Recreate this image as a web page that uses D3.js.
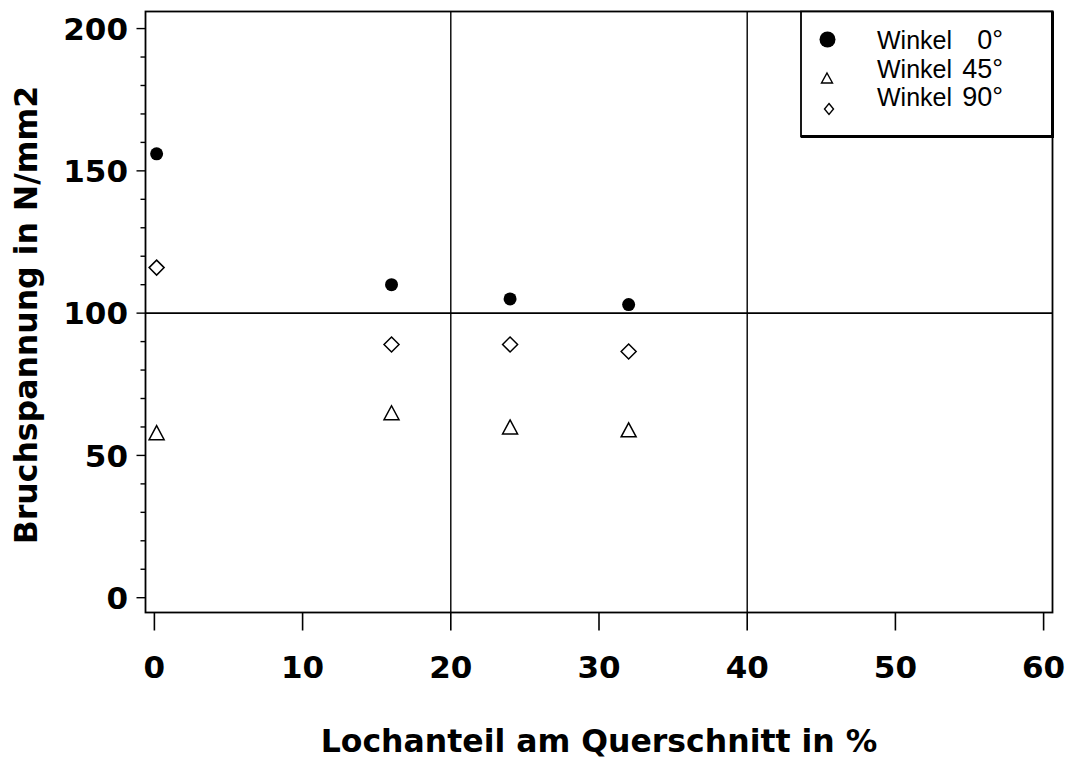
<!DOCTYPE html>
<html>
<head>
<meta charset="utf-8">
<script src="https://cdn.jsdelivr.net/npm/d3@7"></script>
<style>
  html, body { margin: 0; padding: 0; background: #fff; }
  svg { display: block; }
</style>
</head>
<body>
<svg id="chart" width="1079" height="758"></svg>
<script>
// Hole share in the cross-section (%) for each test specimen
const lochanteil = [0.15, 16, 24, 32];

// Breaking stress (N/mm2) per load angle
const winkel0  = [156, 110, 105, 103];
const winkel45 = [58, 65, 60, 59];
const winkel90 = [116, 89, 89, 86.5];

const seriesNames = ["Winkel", "Winkel", "Winkel"];
const seriesAngles = ["0°", "45°", "90°"];

const xTicks = [0, 10, 20, 30, 40, 50, 60];
const yTicks = [0, 50, 100, 150, 200];
const yMinorTicks = d3.range(0, 201, 10);
const xRefLines = [20, 40];
const yRefLines = [100];

const svg = d3.select("#chart");
const plotL = 145.5, plotR = 1052.5, plotT = 11.5, plotB = 612.5;

const x = d3.scaleLinear().domain([-0.6, 60.6]).range([plotL, plotR]);
const y = d3.scaleLinear().domain([-5.2, 206]).range([plotB, plotT]);

const boldFont = "'DejaVu Sans', sans-serif";
const lightFont = "'Liberation Sans', Arial, sans-serif";

// reference lines
svg.append("g").selectAll("line").data(xRefLines).join("line")
  .attr("x1", d => x(d)).attr("x2", d => x(d))
  .attr("y1", plotT).attr("y2", plotB)
  .attr("stroke", "#000").attr("stroke-width", 1.4);
svg.append("g").selectAll("line").data(yRefLines).join("line")
  .attr("x1", plotL).attr("x2", plotR)
  .attr("y1", d => y(d)).attr("y2", d => y(d))
  .attr("stroke", "#000").attr("stroke-width", 1.6);

// plot frame
svg.append("rect")
  .attr("x", plotL).attr("y", plotT)
  .attr("width", plotR - plotL).attr("height", plotB - plotT)
  .attr("fill", "none").attr("stroke", "#000").attr("stroke-width", 1.8);

// x axis ticks and labels
const xAxis = svg.append("g");
xAxis.selectAll("line").data(xTicks).join("line")
  .attr("x1", d => x(d)).attr("x2", d => x(d))
  .attr("y1", plotB).attr("y2", plotB + 18)
  .attr("stroke", "#000").attr("stroke-width", 1.6);
xAxis.selectAll("text").data(xTicks).join("text")
  .attr("x", d => x(d)).attr("y", 678)
  .attr("text-anchor", "middle")
  .attr("font-family", boldFont).attr("font-weight", "bold")
  .attr("font-size", 31)
  .text(d => d);

// y axis ticks and labels
const yAxis = svg.append("g");
yAxis.selectAll("line").data(yMinorTicks).join("line")
  .attr("x1", plotL).attr("x2", d => plotL - (d % 50 === 0 ? 9 : 5))
  .attr("y1", d => y(d)).attr("y2", d => y(d))
  .attr("stroke", "#000").attr("stroke-width", 1.4);
yAxis.selectAll("text").data(yTicks).join("text")
  .attr("x", 128).attr("y", d => y(d))
  .attr("dy", "0.36em")
  .attr("text-anchor", "end")
  .attr("font-family", boldFont).attr("font-weight", "bold")
  .attr("font-size", 31)
  .text(d => d);

// axis titles
svg.append("text")
  .attr("x", (plotL + plotR) / 2).attr("y", 752)
  .attr("text-anchor", "middle")
  .attr("font-family", boldFont).attr("font-weight", "bold")
  .attr("font-size", 31.5)
  .text("Lochanteil am Querschnitt in %");
svg.append("text")
  .attr("transform", "translate(37,315) rotate(-90)")
  .attr("text-anchor", "middle")
  .attr("font-family", boldFont).attr("font-weight", "bold")
  .attr("font-size", 31.5)
  .text("Bruchspannung in N/mm2");

// marker shapes
function trianglePath(w, h) {
  return `M0,${-h / 2}L${w / 2},${h / 2}L${-w / 2},${h / 2}Z`;
}
function diamondPath(w, h) {
  return `M0,${-h / 2}L${w / 2},0L0,${h / 2}L${-w / 2},0Z`;
}

const pts = (vals) => lochanteil.map((l, i) => ({ x: l, v: vals[i] }));

// Winkel 0°: filled circles
svg.append("g").selectAll("circle").data(pts(winkel0)).join("circle")
  .attr("cx", d => x(d.x)).attr("cy", d => y(d.v))
  .attr("r", 6.5).attr("fill", "#000");

// Winkel 45°: open triangles
svg.append("g").selectAll("path").data(pts(winkel45)).join("path")
  .attr("transform", d => `translate(${x(d.x)},${y(d.v)})`)
  .attr("d", trianglePath(15, 14))
  .attr("fill", "none").attr("stroke", "#000").attr("stroke-width", 1.5);

// Winkel 90°: open diamonds
svg.append("g").selectAll("path").data(pts(winkel90)).join("path")
  .attr("transform", d => `translate(${x(d.x)},${y(d.v)})`)
  .attr("d", diamondPath(15, 15))
  .attr("fill", "none").attr("stroke", "#000").attr("stroke-width", 1.5);

// legend
const lg = svg.append("g");
lg.append("rect")
  .attr("x", 801).attr("y", plotT)
  .attr("width", plotR - 801).attr("height", 136.5 - plotT)
  .attr("fill", "#fff").attr("stroke", "#000").attr("stroke-width", 1.8);
lg.append("line")
  .attr("x1", plotR).attr("x2", plotR).attr("y1", plotT).attr("y2", 137)
  .attr("stroke", "#000").attr("stroke-width", 3);
lg.append("line")
  .attr("x1", 801).attr("x2", plotR + 1.5).attr("y1", 136.5).attr("y2", 136.5)
  .attr("stroke", "#000").attr("stroke-width", 3);

const rowY = [39.5, 78, 109];
lg.append("circle").attr("cx", 827.5).attr("cy", rowY[0]).attr("r", 8).attr("fill", "#000");
lg.append("path").attr("transform", `translate(827,${rowY[1]})`)
  .attr("d", trianglePath(11, 10))
  .attr("fill", "none").attr("stroke", "#000").attr("stroke-width", 1.4);
lg.append("path").attr("transform", `translate(829,${rowY[2]})`)
  .attr("d", diamondPath(9, 11))
  .attr("fill", "none").attr("stroke", "#000").attr("stroke-width", 1.4);

const textBase = [48.5, 77.5, 106];
lg.selectAll("text.name").data(seriesNames).join("text")
  .attr("class", "name")
  .attr("x", 877).attr("y", (d, i) => textBase[i])
  .attr("font-family", lightFont).attr("font-size", 25)
  .text(d => d);
lg.selectAll("text.angle").data(seriesAngles).join("text")
  .attr("class", "angle")
  .attr("x", 1003).attr("y", (d, i) => textBase[i])
  .attr("text-anchor", "end")
  .attr("font-family", lightFont).attr("font-size", 27)
  .text(d => d);
</script>
</body>
</html>
